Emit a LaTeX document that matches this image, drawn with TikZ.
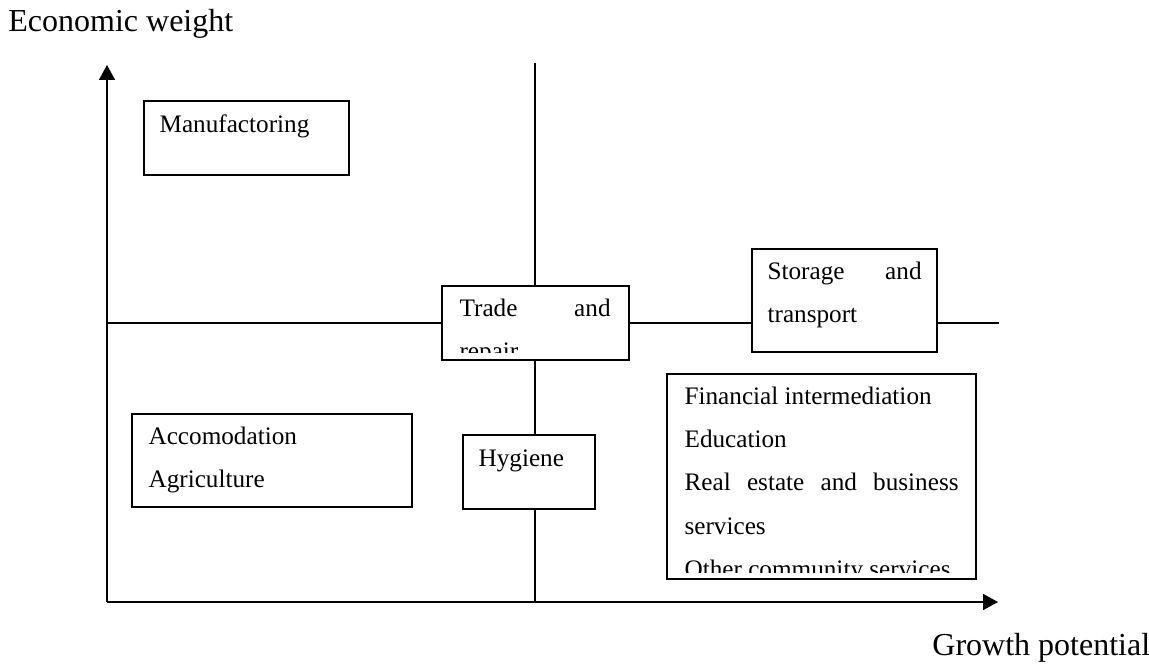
\documentclass[tikz,border=0pt]{standalone}
\usepackage{fontspec}
\setmainfont{Liberation Serif}
\usepackage{tikz}
\usetikzlibrary{arrows.meta, calc}

\newcommand{\sectorfont}{\fontsize{12.6}{21.65}\selectfont}
\newcommand{\axisfont}{\fontsize{16}{19}\selectfont}

\begin{document}
\begin{tikzpicture}[x=0.5pt, y=-0.5pt]
        \tikzstyle{sector} = [rectangle, draw, line width=0.8pt, inner sep=0pt]
        \tikzstyle{sectortext} = [anchor=base west, inner sep=0pt, font=\sectorfont]
        \tikzstyle{line} = [draw, line width=0.8pt]
        \tikzstyle{axis} = [draw, line width=0.8pt, -{Triangle[length=7.5pt, width=8pt]}]

        \useasboundingbox (0,0) rectangle (1149,668);

        % axes
        \coordinate (origin) at (107,602);
        \coordinate (ytip) at (107,65);
        \coordinate (xtip) at (998,602);
        \coordinate (vtop) at (535,63);
        \coordinate (hend) at (999,323);

        \node [anchor=base west, inner sep=0pt, font=\axisfont] (ylabel) at (8,32) {Economic weight};
        \node [anchor=base west, inner sep=0pt, font=\axisfont] (xlabel) at (932,655) {Growth potential};

        % sector boxes
        \node [sector, minimum width=102.5pt, minimum height=37pt] (manuf) at (246.5,138) {};
        \node [sector, minimum width=93.5pt, minimum height=37pt] (trade) at (535.5,323) {};
        \node [sector, minimum width=92.5pt, minimum height=51.5pt] (storage) at (844.5,300.5) {};
        \node [sector, minimum width=154.5pt, minimum height=102.5pt] (finance) at (821.5,476.5) {};
        \node [sector, minimum width=140pt, minimum height=46.5pt] (accom) at (272,460.5) {};
        \node [sector, minimum width=66pt, minimum height=37pt] (hygiene) at (529,472) {};

        % sector texts
        \node [sectortext] (manuftext) at ($(manuf.north west)+(16,32)$) {Manufactoring};
        \node [sectortext] (storagetext) at ($(storage.north west)+(16,31)$)
            {\parbox[t]{77pt}{Storage\hfill and\\ transport}};
        \node [sectortext] (accomtext) at ($(accom.north west)+(17,31)$)
            {\parbox[t]{120pt}{Accomodation\\ Agriculture}};
        \node [sectortext] (hygienetext) at ($(hygiene.north west)+(16,32)$) {Hygiene};
        \begin{scope}
            \clip (trade.north west) rectangle ($(trade.south east)+(0,-8)$);
            \node [sectortext] (tradetext) at ($(trade.north west)+(18,31)$)
                {\parbox[t]{75.5pt}{Trade\hfill and\\ repair}};
        \end{scope}
        \begin{scope}
            \clip (finance.north west) rectangle ($(finance.south east)+(0,-7)$);
            \node [sectortext] (financetext) at ($(finance.north west)+(18,31)$)
                {\parbox[t]{137pt}{Financial intermediation\\ Education\\
                 Real\hfill estate\hfill and\hfill business\\ services\\ Other community services}};
        \end{scope}

        % quadrant lines
        \path [axis] (origin) -- (ytip);
        \path [axis] (origin) -- (xtip);
        \path [line] (origin |- trade.west) -- (trade.west);
        \path [line] (trade.east) -- (trade.east -| storage.west);
        \path [line] (storage.east |- trade.east) -- (hend);
        \path [line] (vtop) -- (vtop |- trade.north);
        \path [line] (vtop |- trade.south) -- (vtop |- hygiene.north);
        \path [line] (vtop |- hygiene.south) -- (vtop |- origin);
    \end{tikzpicture}
\end{document}
